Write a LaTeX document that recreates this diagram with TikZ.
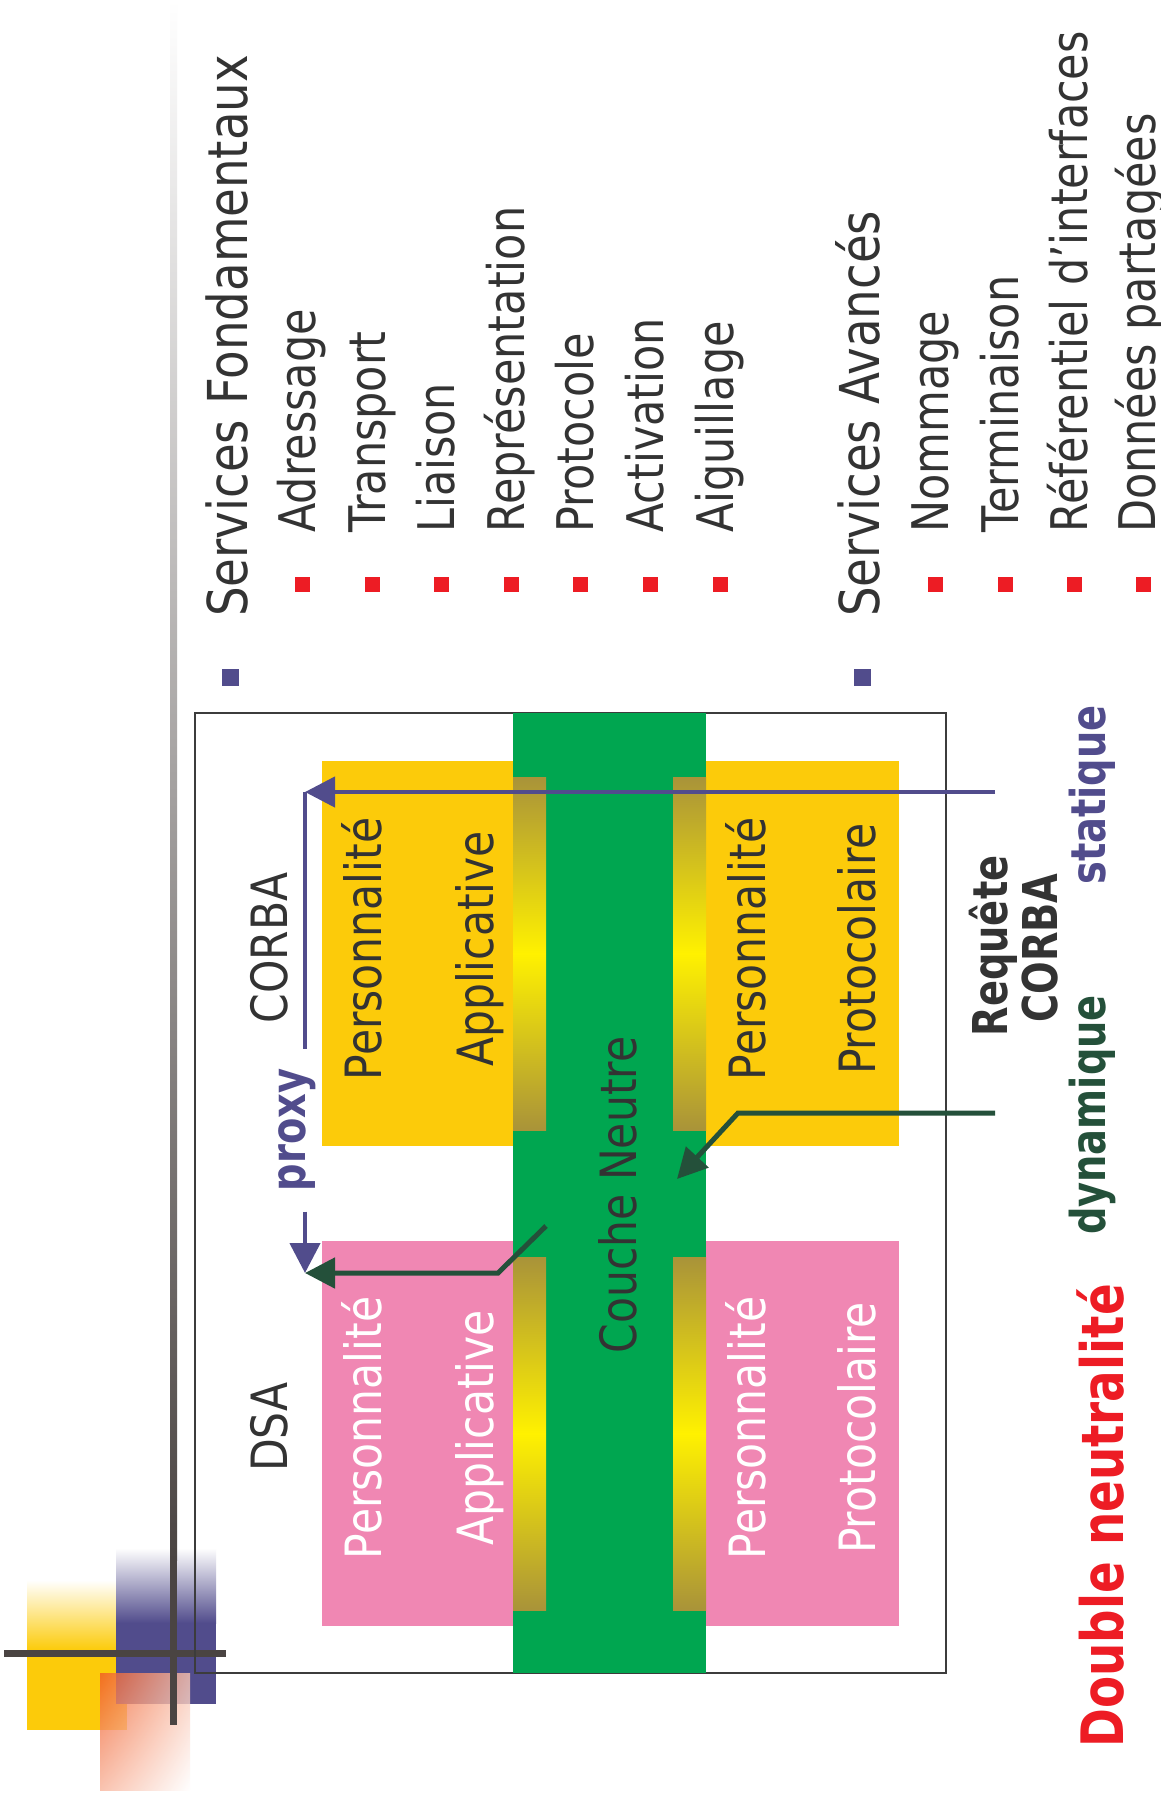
\documentclass[tikz,border=0pt]{standalone}
\usepackage{fontspec}
\setmainfont{DejaVu Sans}[FakeStretch=0.85]
\newfontfamily\boldnarrow{DejaVu Sans}[FakeStretch=0.8]
\usetikzlibrary{arrows.meta,calc,positioning,shadings}
\definecolor{txtgray}{HTML}{333333}
\definecolor{accblue}{HTML}{514C8C}
\definecolor{corbayellow}{HTML}{FCCB0A}
\definecolor{dsapink}{HTML}{F087B3}
\definecolor{neutregreen}{HTML}{00A650}
\definecolor{bargold}{HTML}{A99339}
\definecolor{barshine}{HTML}{FFF100}
\definecolor{dynagreen}{HTML}{24503A}
\definecolor{alertred}{HTML}{ED1C24}
\definecolor{barline}{HTML}{4A4442}
\definecolor{accorange}{HTML}{F05A24}
\definecolor{framegray}{HTML}{3C3C3C}
\tikzset{
  rottext/.style={rotate=90, inner sep=0pt, anchor=base},
  titletext/.style={rottext, anchor=base west, text=txtgray, font=\fontsize{55}{66}\selectfont},
  itemtext/.style={rottext, anchor=base west, text=txtgray, font=\fontsize{50.5}{60}\selectfont},
  blocktext/.style={rottext, font=\fontsize{50}{60}\selectfont},
  boldtext/.style={rottext, font=\boldnarrow\bfseries\fontsize{48}{58}\selectfont},
  bluebullet/.style={fill=accblue, inner sep=0pt, minimum size=17pt},
  redbullet/.style={fill=alertred, inner sep=0pt, minimum size=15pt},
  blockbox/.style={inner sep=0pt, minimum width=577pt, minimum height=385pt},
  goldbar/.style={top color=bargold, bottom color=bargold, middle color=barshine, inner sep=0pt, minimum width=33pt, minimum height=353pt},
  blueline/.style={draw=accblue, line width=4.5pt},
  bluearrow/.style={blueline, -{Triangle[length=30pt, width=30pt]}},
  greenarrow/.style={draw=dynagreen, line width=5pt, -{Triangle[length=30pt, width=30pt]}}
}
\begin{document}
\begin{tikzpicture}[x=1pt, y=-1pt]
  \fill[white] (0,0) rectangle (1160,1800);
  \useasboundingbox (0,0) rectangle (1160,1800);

  % corner decoration
  \shade[top color=white, bottom color=corbayellow] (27,1580) rectangle (127,1650);
  \fill[corbayellow] (27,1650) rectangle (127,1730);
  \shade[top color=white, bottom color=accblue] (116,1548) rectangle (216,1623);
  \fill[accblue] (116,1623) rectangle (216,1704);
  \shade[upper left=accorange, upper right=accorange!35, lower left=accorange!45, lower right=white, fill opacity=0.8] (100,1673) rectangle (190,1790);
  \fill[barline] (4,1650) rectangle (226,1657);
  \shade[top color=white, bottom color=barline] (170,0) rectangle (177,1560);
  \fill[barline] (170,1560) rectangle (177,1725);

  % services list
  \node[bluebullet] (fundBul) at (230,677) {};
  \node[titletext] (fundTitle) at (247,617) {Services Fondamentaux};
  \node[redbullet] (adrBul) at (302,584) {};
  \node[itemtext] (adr) at (315,533) {Adressage};
  \node[redbullet] (traBul) at (372,584) {};
  \node[itemtext] (tra) at (385,533) {Transport};
  \node[redbullet] (liaBul) at (441,584) {};
  \node[itemtext] (lia) at (454,533) {Liaison};
  \node[redbullet] (repBul) at (511,584) {};
  \node[itemtext] (rep) at (524,533) {Représentation};
  \node[redbullet] (proBul) at (580,584) {};
  \node[itemtext] (pro) at (593,533) {Protocole};
  \node[redbullet] (actBul) at (650,584) {};
  \node[itemtext] (act) at (663,533) {Activation};
  \node[redbullet] (aigBul) at (720,584) {};
  \node[itemtext] (aig) at (733,533) {Aiguillage};

  \node[bluebullet] (advBul) at (862,677) {};
  \node[titletext] (advTitle) at (879,617) {Services Avancés};
  \node[redbullet] (nomBul) at (935,584) {};
  \node[itemtext] (nom) at (948,533) {Nommage};
  \node[redbullet] (terBul) at (1005,584) {};
  \node[itemtext] (ter) at (1018,533) {Terminaison};
  \node[redbullet] (refBul) at (1074,584) {};
  \node[itemtext] (ref) at (1087,533) {Référentiel d’interfaces};
  \node[redbullet] (donBul) at (1143,584) {};
  \node[itemtext] (don) at (1155,533) {Données partagées};

  % architecture
  \node[draw=framegray, line width=2.5pt, inner sep=0pt, minimum width=751pt, minimum height=960pt] (frame) at (570.5,1193) {};
  \node[blockbox, fill=corbayellow] (corbaBlk) at (610.5,953.5) {};
  \node[blockbox, fill=dsapink] (dsaBlk) at (610.5,1433.5) {};
  \node[fill=neutregreen, inner sep=0pt, minimum width=193pt, minimum height=960pt] (band) at (609.5,1193) {};
  \node[goldbar] (barCL) at (529.5,953.5) {};
  \node[goldbar] (barCR) at (689.5,953.5) {};
  \node[goldbar] (barDL) at (529.5,1433.5) {};
  \node[goldbar] (barDR) at (689.5,1433.5) {};

  \node[blocktext, text=txtgray] (persCA) at (381,949) {Personnalité};
  \node[blocktext, text=txtgray] (applC) at (493,949) {Applicative};
  \node[blocktext, text=txtgray] (persCP) at (765,949) {Personnalité};
  \node[blocktext, text=txtgray] (protC) at (875,949) {Protocolaire};
  \node[blocktext, text=white] (persDA) at (381,1428) {Personnalité};
  \node[blocktext, text=white] (applD) at (493,1428) {Applicative};
  \node[blocktext, text=white] (persDP) at (765,1428) {Personnalité};
  \node[blocktext, text=white] (protD) at (875,1428) {Protocolaire};
  \node[blocktext, text=txtgray] (neutre) at (636,1195) {Couche Neutre};
  \node[blocktext, text=txtgray] (corbaLbl) at (287,948) {CORBA};
  \node[blocktext, text=txtgray] (dsaLbl) at (287,1427) {DSA};
  \node[boldtext, text=accblue, inner xsep=20pt] (proxy) at (305,1130) {proxy};

  % requests
  \node[boldtext, text=txtgray] (requete) at (1007,946) {Requête};
  \node[boldtext, text=txtgray] (corbaReq) at (1057,948) {CORBA};
  \node[boldtext, text=accblue] (statique) at (1105,795) {statique};
  \node[boldtext, text=dynagreen] (dynamique) at (1105,1115) {dynamique};
  \node[rottext, text=alertred, font=\boldnarrow\bfseries\fontsize{58.5}{70}\selectfont] (double) at (1123,1516) {Double neutralité};

  \coordinate (statIn) at (995,792);
  \coordinate (statCorner) at (305,792);
  \coordinate (meet) at (305,1273);
  \coordinate (dynIn) at (995,1113);
  \coordinate (dynBend) at (738,1113);
  \coordinate (dynTip) at (677,1179);
  \coordinate (neuOut) at (546,1226);
  \coordinate (neuBend) at (498,1273);

  \draw[bluearrow] (statIn) -- (statCorner);
  \draw[blueline] (statCorner) -- (statCorner |- proxy.east);
  \draw[bluearrow] (statCorner |- proxy.west) -- (meet);
  \draw[greenarrow] (dynIn) -- (dynBend) -- (dynTip);
  \draw[greenarrow] (neuOut) -- (neuBend) -- (meet);
\end{tikzpicture}
\end{document}
